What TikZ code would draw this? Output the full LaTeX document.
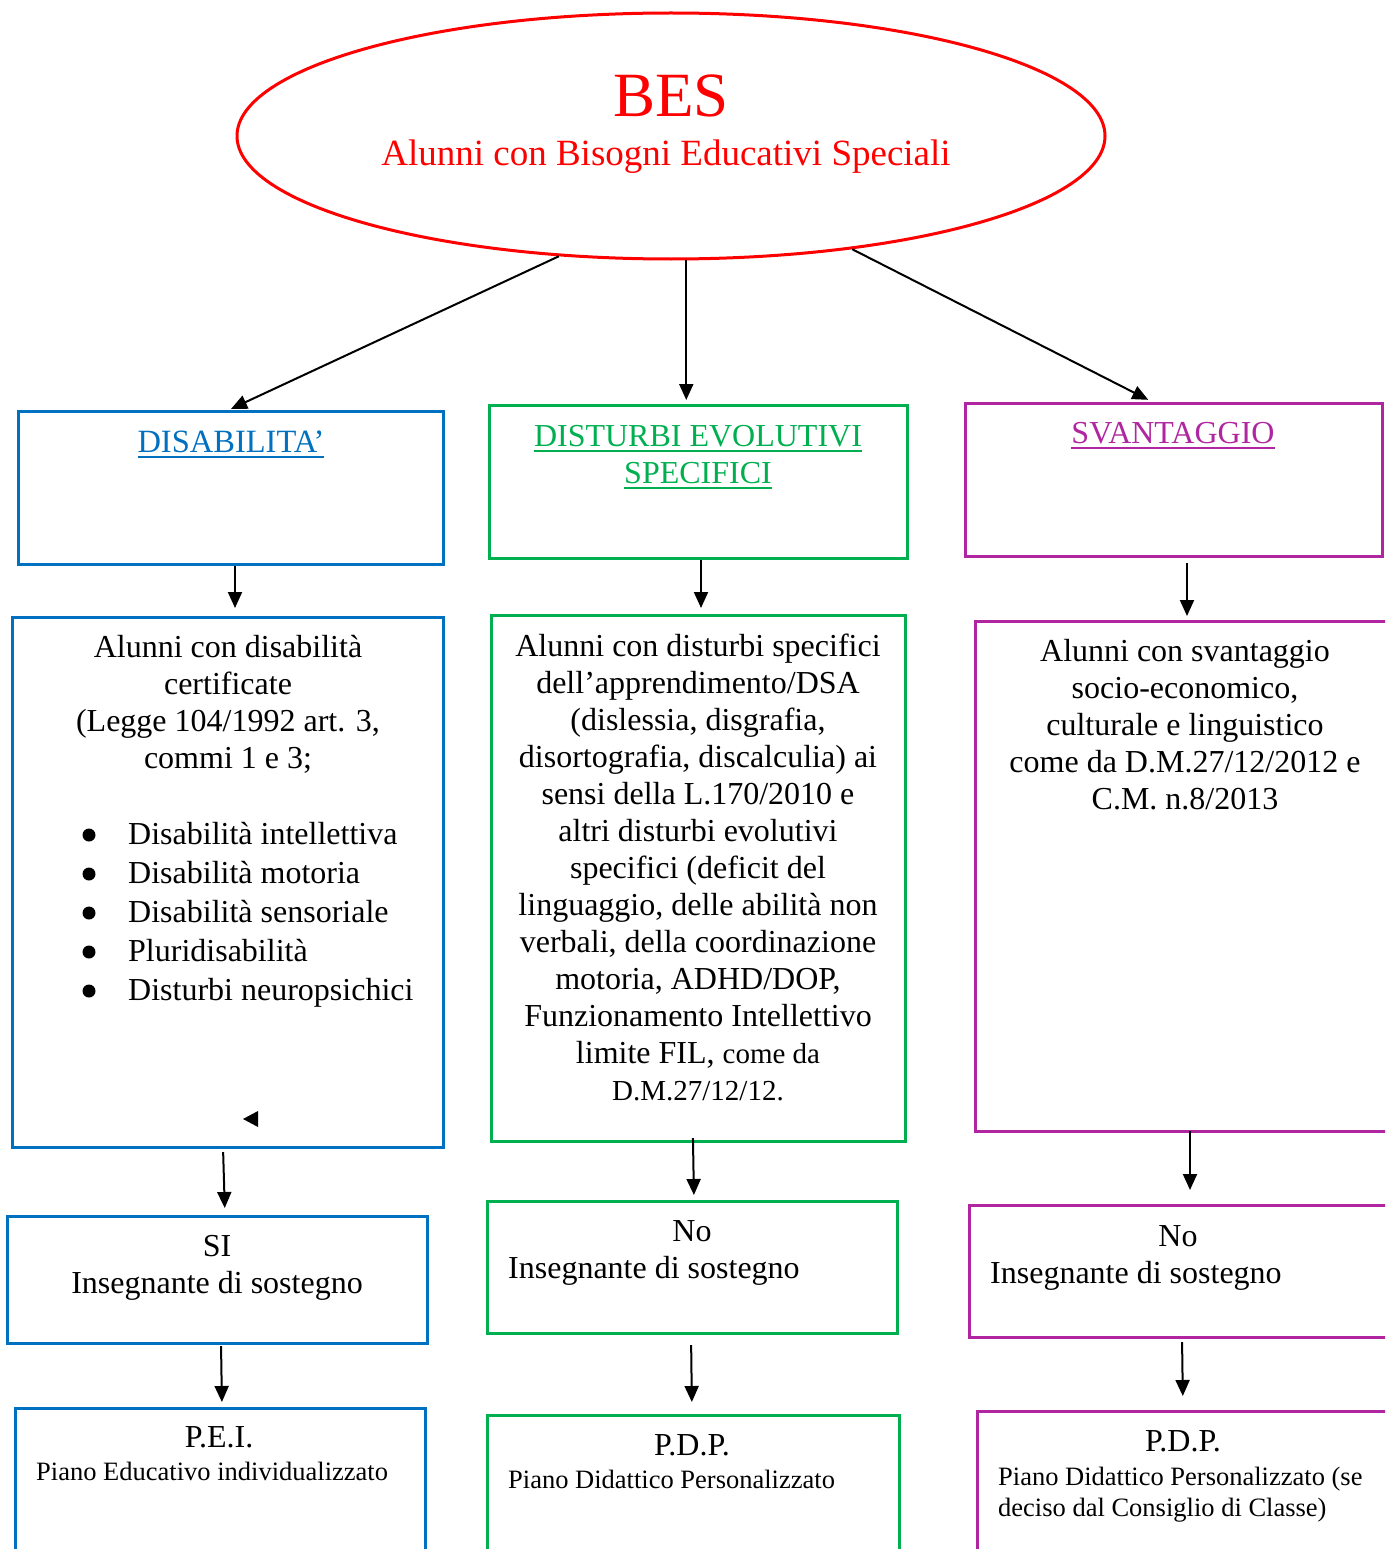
\documentclass[tikz,border=0pt]{standalone}
\usepackage{fontspec}
\setmainfont{Liberation Serif}
\usetikzlibrary{shapes.geometric,arrows.meta}
\definecolor{disblue}{RGB}{0,112,192}
\definecolor{devgreen}{RGB}{0,176,80}
\definecolor{svapurple}{RGB}{176,38,160}
\newsavebox{\undlbox}
\newcommand{\undl}[1]{\sbox{\undlbox}{#1}\rlap{\rule[-6pt]{\wd\undlbox}{2pt}}\usebox{\undlbox}}
\begin{document}
\begin{tikzpicture}[x=1pt,y=-1pt,
  boxframe/.style={draw,line width=3pt,inner sep=0pt,outer sep=0pt},
  disbox/.style={boxframe,draw=disblue},
  devbox/.style={boxframe,draw=devgreen},
  svabox/.style={boxframe,draw=svapurple},
  arr/.style={-{Triangle[length=16pt,width=14pt]},line width=2pt},
  txt/.style={inner sep=0pt,align=center,font=\fontsize{32}{37}\selectfont},
  small/.style={inner sep=0pt,align=left,font=\fontsize{26.5}{31}\selectfont}]
\useasboundingbox (0,0) rectangle (1385,1549);
\clip (0,0) rectangle (1385,1549);
\node[ellipse,draw=red,line width=3pt,inner sep=0pt,minimum width=868pt,minimum height=246pt] (bes) at (671,136) {};
\node[txt,anchor=base,text=red,font=\fontsize{63}{70}\selectfont] (besT) at (671,117) {BES};
\node[txt,anchor=base,text=red,font=\fontsize{37}{42}\selectfont] (besS) at (666,166) {Alunni con Bisogni Educativi Speciali};
\node[disbox,minimum width=425pt,minimum height=153pt] (dis) at (230.5,487.5) {};
\node[disbox,minimum width=431pt,minimum height=530pt] (disA) at (227.5,882) {};
\node[disbox,minimum width=420pt,minimum height=127pt] (disB) at (217,1279.5) {};
\node[disbox,minimum width=410pt,minimum height=192pt] (disC) at (220,1504) {};
\node[devbox,minimum width=418pt,minimum height=153pt] (dev) at (698,481.5) {};
\node[devbox,minimum width=414pt,minimum height=526pt] (devA) at (698,878) {};
\node[devbox,minimum width=410pt,minimum height=132pt] (devB) at (692,1267) {};
\node[devbox,minimum width=412pt,minimum height=185pt] (devC) at (693,1507.5) {};
\node[svabox,minimum width=417pt,minimum height=153pt] (sva) at (1173.5,479.5) {};
\node[svabox,minimum width=445pt,minimum height=510pt] (svaA) at (1197.5,876) {};
\node[svabox,minimum width=451pt,minimum height=132pt] (svaB) at (1194.5,1271) {};
\node[svabox,minimum width=443pt,minimum height=189pt] (svaC) at (1198.5,1505.5) {};
\node[txt,anchor=base,text=disblue,font=\fontsize{32.5}{37}\selectfont] (disT) at (231,452) {\undl{DISABILITA’}};
\node[txt,anchor=north] (disAT) at (228,635) {Alunni con disabilità\\certificate\\(Legge 104/1992 art. 3,\\commi 1 e 3;};
\foreach \y in {835,874,913,952,991} \fill (89,\y) circle (6.5pt);
\node[txt,anchor=north west,align=left,font=\fontsize{32}{39}\selectfont] (disL) at (128,822) {Disabilità intellettiva\\Disabilità motoria\\Disabilità sensoriale\\Pluridisabilità\\Disturbi neuropsichici};
\fill (258,1111) -- (243,1119) -- (258,1127) -- cycle;
\node[txt,anchor=base] (disBT) at (217,1256) {SI};
\node[txt,anchor=base] (disBS) at (217,1293) {Insegnante di sostegno};
\node[txt,anchor=base] (disCT) at (219,1447) {P.E.I.};
\node[small,anchor=base west] (disCS) at (36,1480) {Piano Educativo individualizzato};
\node[txt,anchor=north,text=devgreen] (devT) at (698,425) {\undl{DISTURBI EVOLUTIVI}\\\undl{SPECIFICI}};
\node[txt,anchor=north] (devAT) at (698,634) {Alunni con disturbi specifici\\dell’apprendimento/DSA\\(dislessia, disgrafia,\\disortografia, discalculia) ai\\sensi della L.170/2010 e\\altri disturbi evolutivi\\specifici (deficit del\\linguaggio, delle abilità non\\verbali, della coordinazione\\motoria, ADHD/DOP,\\Funzionamento Intellettivo\\limite FIL, {\fontsize{29}{36}\selectfont come da}\\{\fontsize{29}{36}\selectfont D.M.27/12/12.}};
\node[txt,anchor=base] (devBT) at (692,1241) {No};
\node[txt,anchor=base west] (devBS) at (508,1278) {Insegnante di sostegno};
\node[txt,anchor=base] (devCT) at (692,1455) {P.D.P.};
\node[small,anchor=base west] (devCS) at (508,1488) {Piano Didattico Personalizzato};
\node[txt,anchor=base,text=svapurple] (svaT) at (1173,443) {\undl{SVANTAGGIO}};
\node[txt,anchor=north] (svaAT) at (1185,639) {Alunni con svantaggio\\socio-economico,\\culturale e linguistico\\come da D.M.27/12/2012 e\\C.M. n.8/2013};
\node[txt,anchor=base] (svaBT) at (1178,1246) {No};
\node[txt,anchor=base west] (svaBS) at (990,1283) {Insegnante di sostegno};
\node[txt,anchor=base] (svaCT) at (1183,1451) {P.D.P.};
\node[small,anchor=north west] (svaCS) at (998,1467) {Piano Didattico Personalizzato (se\\deciso dal Consiglio di Classe)};
\draw[arr,shorten >=5pt] (bes.227) -- ([xshift=-4pt]dis.north);
\draw[arr,shorten >=5pt] (bes.277) -- (bes.277 |- dev.north);
\draw[arr,shorten >=7pt] (bes.328) -- ([xshift=-19pt]sva.north);
\draw[arr,shorten <=2pt,shorten >=9pt] ([xshift=4.5pt]dis.south) -- ([xshift=7.5pt]disA.north);
\draw[arr,shorten <=2pt,shorten >=7pt] ([xshift=3pt]dev.south) -- ([xshift=3pt]devA.north);
\draw[arr,shorten <=7pt,shorten >=5pt] ([xshift=13.5pt]sva.south) -- ([xshift=-10.5pt]svaA.north);
\draw[arr,shorten <=5pt,shorten >=8pt] ([xshift=-4.5pt]disA.south) -- ([xshift=8pt]disB.north);
\draw[arr,shorten <=3pt,shorten >=6pt] ([xshift=4pt]disB.south) -- ([xshift=2pt]disC.north);
\draw[arr,shorten <=-3pt,shorten >=6pt] ([xshift=-5pt]devA.south) -- ([xshift=2pt]devB.north);
\draw[arr,shorten <=12pt,shorten >=13pt] ([xshift=-1pt]devB.south) -- ([xshift=-1pt]devC.north);
\draw[arr,shorten >=15pt] ([xshift=-7.5pt]svaA.south) -- ([xshift=-4.5pt]svaB.north);
\draw[arr,shorten <=5pt,shorten >=15pt] ([xshift=-12.5pt]svaB.south) -- ([xshift=-15.5pt]svaC.north);
\end{tikzpicture}
\end{document}
